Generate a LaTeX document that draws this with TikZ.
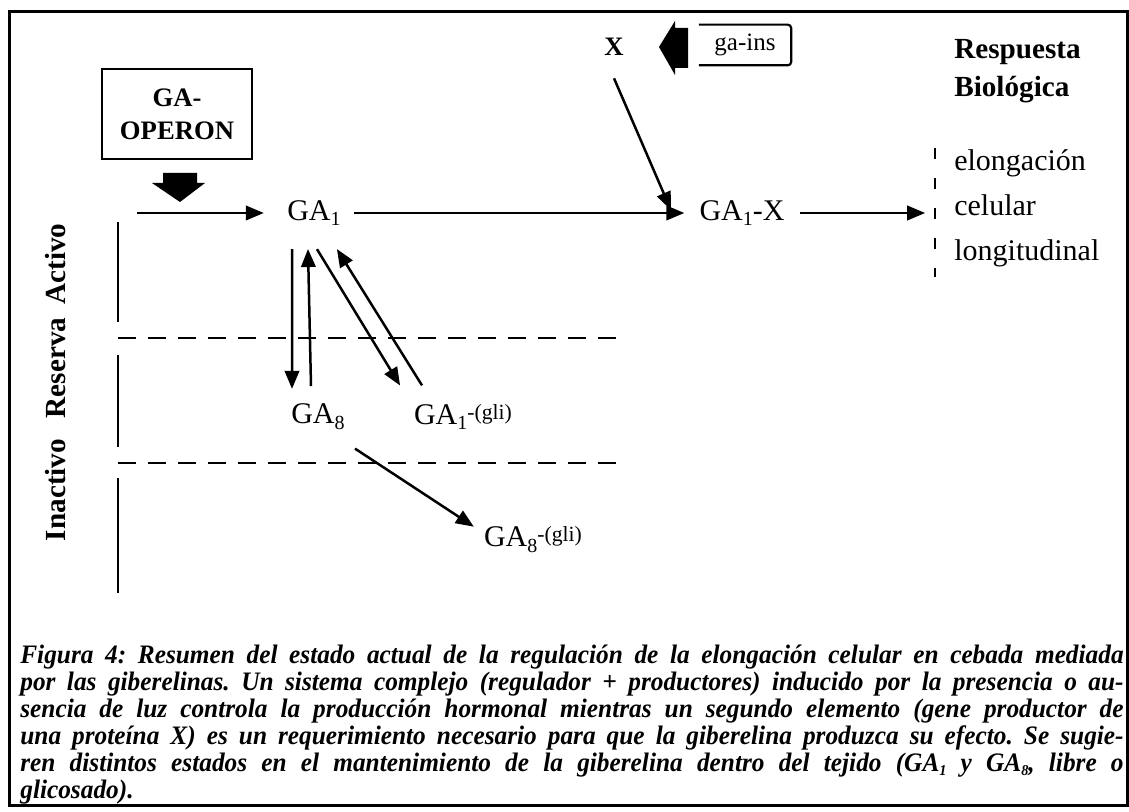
\documentclass[tikz,border=0pt]{standalone}
\usepackage{fontspec}
\setmainfont{Liberation Serif}
\newfontfamily\capfont[FakeStretch=0.95]{Liberation Serif}
\usepackage{tikz}
\usetikzlibrary{arrows}

\newcommand{\lo}[1]{\raisebox{-3.5pt}{\fontsize{12}{12}\selectfont #1}}
\newcommand{\hi}[1]{\raisebox{3pt}{\fontsize{13}{13}\selectfont #1}}
\newcommand{\capline}[1]{{\spaceskip=0.25em plus 2em minus 0.1em\relax\makebox[662pt][s]{#1}}}

\begin{document}
\frenchspacing
\begin{tikzpicture}[x=0.6pt,y=-0.6pt]
\tikzstyle mol=[inner sep=0pt, font=\fontsize{18}{22}\selectfont]
\tikzstyle arr=[>=triangle 45, line width=1.5pt, ->]
\tikzstyle zone=[line width=1.5pt]
\tikzstyle lbl=[font=\fontsize{17.5}{22}\selectfont\bfseries, rotate=90]

\useasboundingbox (0,0) rectangle (1129,812);
\draw[line width=1.8pt] (9,12) rectangle (1127,806);

% operon and its block arrow
\node[draw, line width=1.3pt, minimum width=90pt, minimum height=54pt, align=center,
      font=\fontsize{16}{20}\selectfont\bfseries] (operon) at (177,114) {GA-\\OPERON};
\fill (163,173) -- (197,173) -- (197,183) -- (205,183) -- (180,202) -- (152,183) -- (163,183) -- cycle;
\coordinate (inpt) at (137,213);

% main chain
\node[mol] (ga1) at (314,213) {GA\lo{1}};
\node[mol] (ga1x) at (742,213) {GA\lo{1}-X};
\coordinate (resp) at (925,213);
\draw[arr] (inpt) -- ([xshift=-14pt]ga1.west);
\draw[arr] ([xshift=8pt]ga1.east) -- ([xshift=-9pt]ga1x.west);
\draw[arr] ([xshift=9pt]ga1x.east) -- (resp);

% protein X
\node[font=\fontsize{16}{18}\selectfont\bfseries] (x) at (614,47) {X};
\fill (659,47) -- (675,21) -- (675,28) -- (688,28) -- (688,68) -- (675,68) -- (675,75) -- cycle;
\node[minimum width=55pt, minimum height=24pt, font=\fontsize{15}{18}\selectfont] (gains) at (745,45) {ga-ins};
\draw[line width=1.3pt, rounded corners=2pt] (gains.north west) -- (gains.north east) -- (gains.south east) -- (gains.south west);
\draw[arr] ([yshift=-10pt]x.south) -- ([xshift=-17pt,yshift=-6pt]ga1x.north west);

% response
\node[anchor=west, align=left, inner sep=0pt, font=\fontsize{17.5}{23}\selectfont\bfseries] (titulo) at (954,71) {Respuesta\\Biológica};
\node[anchor=west, align=left, inner sep=0pt, font=\fontsize{18}{27}\selectfont] (efecto) at (954,208) {elongación\\celular\\longitudinal};
\draw[line width=1.3pt, dash pattern=on 6.6pt off 11.4pt] (935,148) -- (935,277);

% zones
\draw[zone] (118,222) -- (118,322);
\draw[zone] (118,355) -- (118,447);
\draw[zone] (118,478) -- (118,593);
\draw[zone, dash pattern=on 10.8pt off 7.2pt] (118,338) -- (620,338);
\draw[zone, dash pattern=on 10.8pt off 7.2pt] (118,463) -- (620,463);
\node[lbl] (activo) at (56,264) {Activo};
\node[lbl] (reserva) at (56,368) {Reserva};
\node[lbl] (inactivo) at (56,490) {Inactivo};

% reserve and inactive forms
\node[mol] (ga8) at (318,417) {GA\lo{8}};
\node[mol] (ga1g) at (463,417) {GA\lo{1}\hi{-(gli)}};
\node[mol] (ga8g) at (533,540) {GA\lo{8}\hi{-(gli)}};
\draw[arr] ([xshift=-13.2pt,yshift=-13.8pt]ga1.south) -- ([xshift=-15.6pt,yshift=9pt]ga8.north);
\draw[arr] ([xshift=-4.2pt,yshift=10.5pt]ga8.north) -- ([xshift=-3.6pt,yshift=-13.8pt]ga1.south);
\draw[arr] ([xshift=1.8pt,yshift=-13.8pt]ga1.south) -- ([xshift=-37.8pt,yshift=11pt]ga1g.north);
\draw[arr] ([xshift=-24.6pt,yshift=11pt]ga1g.north) -- ([xshift=13.8pt,yshift=-13.8pt]ga1.south);
\draw[arr] ([xshift=22.2pt,yshift=-11pt]ga8.south) -- ([xshift=-6pt]ga8g.north west);

% caption
\node[anchor=north west, inner sep=0pt, text width=662pt,
      font=\capfont\fontsize{16}{16.2}\selectfont\bfseries\itshape] (caption) at (20,645) {%
\capline{Figura 4: Resumen del estado actual de la regulación de la elongación celular en cebada mediada}\\
\capline{por las giberelinas. Un sistema complejo (regulador + productores) inducido por la presencia o au-}\\
\capline{sencia de luz controla la producción hormonal mientras un segundo elemento (gene productor de}\\
\capline{una proteína X) es un requerimiento necesario para que la giberelina produzca su efecto. Se sugie-}\\
\capline{ren distintos estados en el mantenimiento de la giberelina dentro del tejido (GA\raisebox{-2pt}{\small 1} y GA\raisebox{-2pt}{\small 8}, libre o}\\
glicosado).};
\end{tikzpicture}
\end{document}
